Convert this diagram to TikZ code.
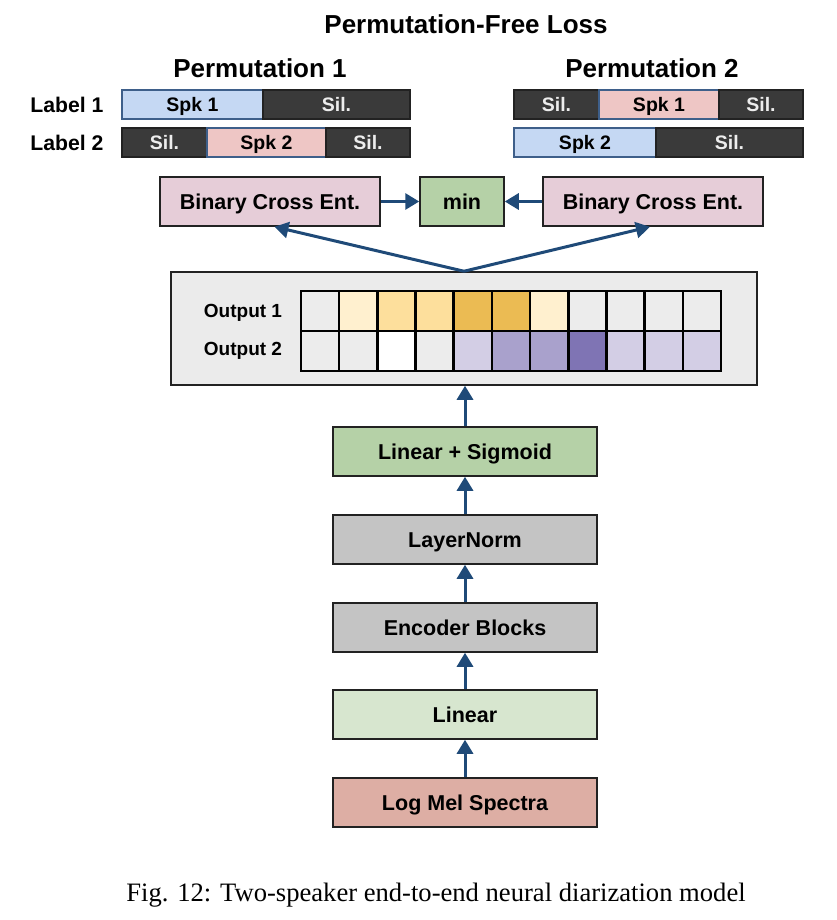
\documentclass[tikz,border=0pt]{standalone}
\usepackage{fontspec}
\setmainfont{Liberation Sans}
\newfontfamily\capfont{Liberation Serif}
\usetikzlibrary{arrows.meta,calc}
\definecolor{arr}{HTML}{1F4A78}
\definecolor{edge}{HTML}{222222}
\definecolor{silfill}{HTML}{3A3A3A}
\definecolor{spkblue}{HTML}{C5D8F3}
\definecolor{spkpink}{HTML}{EEC6C5}
\definecolor{spkedge}{HTML}{3E5F8A}
\definecolor{bcefill}{HTML}{E6CDD8}
\definecolor{greenfill}{HTML}{B5D1A7}
\definecolor{grayfill}{HTML}{C4C4C4}
\definecolor{lightgreen}{HTML}{D7E6CF}
\definecolor{melfill}{HTML}{DDAEA4}
\definecolor{panelfill}{HTML}{EBEBEB}
\definecolor{cg}{HTML}{ECECEC}
\definecolor{y1}{HTML}{FFF0CF}
\definecolor{y2}{HTML}{FDDF9C}
\definecolor{y3}{HTML}{EBBB53}
\definecolor{p1}{HTML}{D3CEE5}
\definecolor{p2}{HTML}{A9A1CC}
\definecolor{p3}{HTML}{7F74B4}
\newcommand{\boxfont}{\fontsize{21.5}{24}\selectfont\bfseries}
\newcommand{\segfont}{\fontsize{19.5}{22}\selectfont\bfseries}
\newcommand{\headfont}{\fontsize{26}{30}\selectfont\bfseries}
\begin{document}
\begin{tikzpicture}[x=1pt,y=-1pt,
  ctext/.style={text height=#1, text depth=0pt},
  box/.style={draw=edge, line width=1.5pt, inner sep=0pt, minimum height=49pt, font=\boxfont, text=black, ctext=15.4pt},
  stackbox/.style={box, minimum width=264pt},
  seg/.style={line width=1.3pt, inner sep=0pt, minimum height=29pt, font=\segfont, ctext=14pt},
  silseg/.style={seg, draw=edge, fill=silfill, text=white!93!black},
  spkseg/.style={seg, draw=spkedge, text=black},
  cell/.style={draw=black, line width=2.6pt, inner sep=0pt, minimum width=38.18pt, minimum height=40pt},
  flow/.style={draw=arr, line width=3pt, -{Triangle[length=14pt,width=16pt]}},
  lbl/.style={inner sep=0pt, font=\segfont, ctext=14pt},
  ]
\useasboundingbox[fill=white] (0,0) rectangle (836,920);

% headings
\node[inner sep=0pt, font=\headfont, ctext=18.6pt] (title) at (466,24) {Permutation-Free Loss};
\node[inner sep=0pt, font=\headfont, ctext=18.6pt] (perm1) at (260,68) {Permutation 1};
\node[inner sep=0pt, font=\headfont, ctext=18.6pt] (perm2) at (652,68) {Permutation 2};
\node[lbl, font=\fontsize{21.2}{24}\selectfont\bfseries, ctext=15.2pt] (lab1) at (67,104.5) {Label 1};
\node[lbl, font=\fontsize{21.2}{24}\selectfont\bfseries, ctext=15.2pt] (lab2) at (67,142.5) {Label 2};

% permutation 1 labels
\node[spkseg, fill=spkblue, minimum width=141pt] (a11) at (192.5,104.5) {Spk 1};
\node[silseg, minimum width=147pt] (a12) at (336.5,104.5) {Sil.};
\node[silseg, minimum width=85pt] (a21) at (164.5,142.5) {Sil.};
\node[spkseg, fill=spkpink, minimum width=119pt] (a22) at (266.5,142.5) {Spk 2};
\node[silseg, minimum width=84pt] (a23) at (368,142.5) {Sil.};

% permutation 2 labels
\node[silseg, minimum width=85pt] (b11) at (556.5,104.5) {Sil.};
\node[spkseg, fill=spkpink, minimum width=120pt] (b12) at (659,104.5) {Spk 1};
\node[silseg, minimum width=84pt] (b13) at (761,104.5) {Sil.};
\node[spkseg, fill=spkblue, minimum width=142pt] (b21) at (585,142.5) {Spk 2};
\node[silseg, minimum width=147pt] (b22) at (729.5,142.5) {Sil.};

% loss boxes
\node[box, fill=bcefill, minimum width=220pt] (bceL) at (270,201.5) {Binary Cross Ent.};
\node[box, fill=greenfill, minimum width=84pt] (min) at (462,201.5) {min};
\node[box, fill=bcefill, minimum width=220pt] (bceR) at (653,201.5) {Binary Cross Ent.};
\draw[flow] (bceL.east) -- (min.west);
\draw[flow] (bceR.west) -- (min.east);

% output panel
\node[draw=edge, line width=1.5pt, fill=panelfill, inner sep=0pt, minimum width=586pt, minimum height=113pt] (panel) at (464,328.5) {};
\node[lbl, font=\fontsize{19}{22}\selectfont\bfseries, ctext=13.6pt] (out1) at (243,311) {Output 1};
\node[lbl, font=\fontsize{19}{22}\selectfont\bfseries, ctext=13.6pt] (out2) at (243,349) {Output 2};
\foreach \c [count=\i from 0] in {cg,y1,y2,y2,y3,y3,y1,cg,cg,cg,cg}
  \node[cell, fill=\c] (r1c\i) at ({301+38.18*(\i+0.5)},311) {};
\foreach \c [count=\i from 0] in {cg,cg,white,cg,p1,p2,p2,p3,p1,p1,p1}
  \node[cell, fill=\c] (r2c\i) at ({301+38.18*(\i+0.5)},351) {};

\coordinate (tipL) at ($(bceL.south west)!0.52!(bceL.south east)$);
\coordinate (tipR) at ($(bceR.south west)!0.486!(bceR.south east)$);
\draw[flow] (panel.north) -- (tipL);
\draw[flow] (panel.north) -- (tipR);

% stack
\node[stackbox, fill=greenfill] (lsig) at (465,451.5) {Linear + Sigmoid};
\node[stackbox, fill=grayfill] (lnorm) at (465,539.5) {LayerNorm};
\node[stackbox, fill=grayfill] (enc) at (465,627.5) {Encoder Blocks};
\node[stackbox, fill=lightgreen] (lin) at (465,714.5) {Linear};
\node[stackbox, fill=melfill] (mel) at (465,802.5) {Log Mel Spectra};

\draw[flow] (mel.north) -- (lin.south);
\draw[flow] (lin.north) -- (enc.south);
\draw[flow] (enc.north) -- (lnorm.south);
\draw[flow] (lnorm.north) -- (lsig.south);
\draw[flow] (lsig.north) -- ($(panel.south west)!(lsig.north)!(panel.south east)$);

% caption
\node[inner sep=0pt, font=\capfont\fontsize{26.6}{30}\selectfont, text height=17.6pt, text depth=0pt] (cap) at (436,893) {Fig. 12: Two-speaker end-to-end neural diarization model};
\end{tikzpicture}
\end{document}
